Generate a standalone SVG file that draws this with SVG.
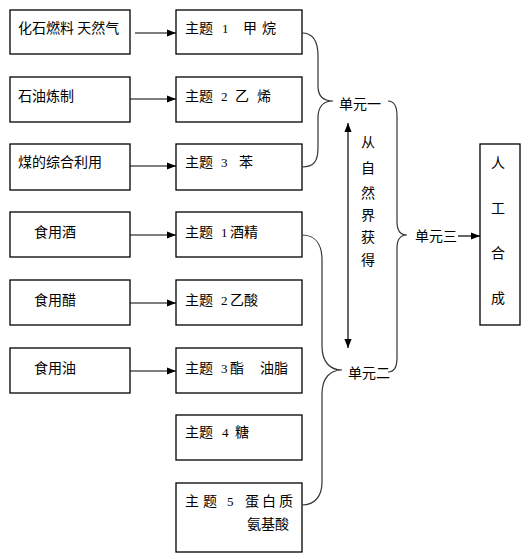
<svg xmlns="http://www.w3.org/2000/svg" width="528" height="559" viewBox="0 0 528 559">
<defs>
<style>
.box{fill:#fff;stroke:#000;stroke-width:1.3}
.t{font-family:"Noto Sans CJK SC","Liberation Sans",sans-serif;font-size:14px;fill:#000}
.n{font-family:"Liberation Serif",serif;font-size:13px}
.ln{fill:none;stroke:#000;stroke-width:1.2}
.br{fill:none;stroke:#333;stroke-width:1.2}
</style>
<marker id="ah" viewBox="0 0 10 10" refX="10" refY="5" markerWidth="9" markerHeight="9" markerUnits="userSpaceOnUse" orient="auto-start-reverse">
<path d="M0,1 L10,5 L0,9 Z" fill="#000"/>
</marker>
</defs>
<rect width="528" height="559" fill="#fff"/>

<g id="src1"><rect class="box" x="10" y="10" width="120" height="44"/><text class="t" x="18" y="33">化石燃料 天然气</text></g>
<g id="src2"><rect class="box" x="10" y="77" width="120" height="45"/><text class="t" x="18" y="101">石油炼制</text></g>
<g id="src3"><rect class="box" x="10" y="144" width="120" height="46"/><text class="t" x="18" y="167">煤的综合利用</text></g>
<g id="src4"><rect class="box" x="10" y="212" width="120" height="45"/><text class="t" x="34" y="237">食用酒</text></g>
<g id="src5"><rect class="box" x="10" y="280" width="120" height="45"/><text class="t" x="34" y="305">食用醋</text></g>
<g id="src6"><rect class="box" x="10" y="348" width="120" height="45"/><text class="t" x="34" y="373">食用油</text></g>

<g id="topic1"><rect class="box" x="176" y="10" width="126" height="44"/><text class="t" x="185" y="33">主题<tspan class="n" x="222">1</tspan><tspan x="243">甲</tspan><tspan x="262">烷</tspan></text></g>
<g id="topic2"><rect class="box" x="176" y="77" width="126" height="45"/><text class="t" x="185" y="101">主题<tspan class="n" x="221">2</tspan><tspan x="235">乙</tspan><tspan x="257">烯</tspan></text></g>
<g id="topic3"><rect class="box" x="176" y="144" width="126" height="46"/><text class="t" x="185" y="167">主题<tspan class="n" x="221">3</tspan><tspan x="239">苯</tspan></text></g>
<g id="topic4"><rect class="box" x="176" y="212" width="126" height="45"/><text class="t" x="185" y="237">主题<tspan class="n" x="221">1</tspan><tspan x="230">酒精</tspan></text></g>
<g id="topic5"><rect class="box" x="176" y="280" width="126" height="45"/><text class="t" x="185" y="305">主题<tspan class="n" x="221">2</tspan><tspan x="230">乙酸</tspan></text></g>
<g id="topic6"><rect class="box" x="176" y="348" width="126" height="45"/><text class="t" x="185" y="373">主题<tspan class="n" x="221">3</tspan><tspan x="230">酯</tspan><tspan x="260">油脂</tspan></text></g>
<g id="topic7"><rect class="box" x="176" y="415" width="126" height="45"/><text class="t" x="185" y="437">主题<tspan class="n" x="222">4</tspan><tspan x="235">糖</tspan></text></g>
<g id="topic8"><rect class="box" x="176" y="483" width="126" height="69"/><text class="t" x="185" y="506">主<tspan x="203">题</tspan><tspan class="n" x="227">5</tspan><tspan x="245">蛋</tspan><tspan x="262">白</tspan><tspan x="279">质</tspan></text><text class="t" x="247" y="529">氨基酸</text></g>

<g id="result"><rect class="box" x="480" y="144" width="40" height="181"/>
<text class="t" text-anchor="middle" x="498" y="168">人</text>
<text class="t" text-anchor="middle" x="498" y="213">工</text>
<text class="t" text-anchor="middle" x="498" y="258">合</text>
<text class="t" text-anchor="middle" x="498" y="303">成</text></g>

<g id="labels">
<text class="t" x="339" y="109">单元一</text>
<text class="t" x="348" y="378">单元二</text>
<text class="t" x="415" y="241">单元三</text>
<g class="t" text-anchor="middle">
<text x="368" y="147">从</text>
<text x="368" y="173">自</text>
<text x="368" y="198">然</text>
<text x="368" y="220">界</text>
<text x="368" y="242">获</text>
<text x="368" y="265">得</text>
</g>
</g>

<g id="connectors">
<line class="ln" x1="135" y1="33" x2="176" y2="33" marker-end="url(#ah)"/>
<line class="ln" x1="130" y1="99" x2="176" y2="99" marker-end="url(#ah)"/>
<line class="ln" x1="130" y1="166" x2="176" y2="166" marker-end="url(#ah)"/>
<line class="ln" x1="130" y1="235" x2="176" y2="235" marker-end="url(#ah)"/>
<line class="ln" x1="130" y1="303" x2="176" y2="303" marker-end="url(#ah)"/>
<line class="ln" x1="130" y1="371" x2="176" y2="371" marker-end="url(#ah)"/>
<line class="ln" x1="458" y1="236" x2="480" y2="236" marker-end="url(#ah)"/>
<line class="ln" x1="348" y1="123" x2="348" y2="348" marker-start="url(#ah)" marker-end="url(#ah)"/>
<path class="br" d="M302,33 C314,33 318,42 318,56 L318,86 C318,96 323,101 333,101 C323,101 318,106 318,118 L318,148 C318,161 314,167 302,167"/>
<path class="br" d="M302,235 C315,235 322,244 322,260 L322,346 C322,362 330,370 342,370 C330,370 322,378 322,394 L322,482 C322,496 315,505 302,505"/>
<path class="br" d="M388,101 C394,101 397,106 397,116 L397,222 C397,231 400,235 407,235 C400,235 397,239 397,248 L397,358 C397,367 394,372 388,372"/>
</g>
</svg>
